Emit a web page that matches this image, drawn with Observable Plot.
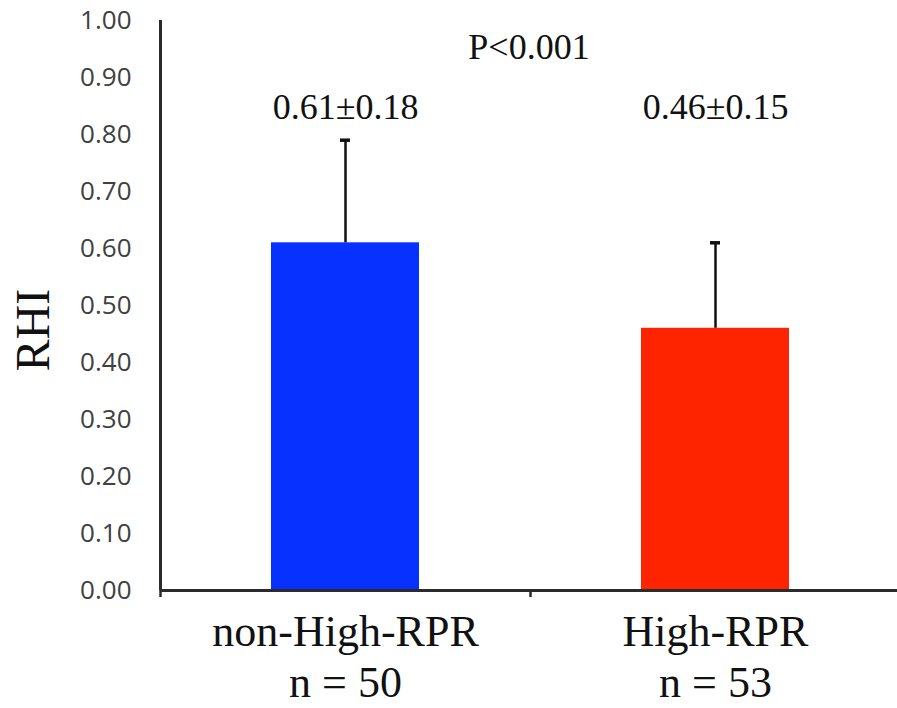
<!DOCTYPE html>
<html>
<head>
<meta charset="utf-8">
<script src="https://cdn.jsdelivr.net/npm/d3@7"></script>
<script src="https://cdn.jsdelivr.net/npm/@observablehq/plot@0.6"></script>
<style>
  html, body { margin: 0; padding: 0; background: #fff; }
</style>
</head>
<body>
<div id="chart"></div>
<script>
// Data
const groups = ["non-High-RPR", "High-RPR"];
const means = [0.61, 0.46];
const sds = [0.18, 0.15];
const ns = [50, 53];
const yTicks = [0, 0.1, 0.2, 0.3, 0.4, 0.5, 0.6, 0.7, 0.8, 0.9, 1.0];
const pLabel = "P<0.001";
const yLabel = "RHI";
const barColors = ["#0631ff", "#ff2400"];

const data = groups.map((g, i) => ({group: g, mean: means[i], sd: sds[i], n: ns[i]}));

const serif = "'Liberation Serif', 'Times New Roman', serif";
const sans = "'Open Sans', 'Liberation Sans', sans-serif";
const axisColor = "#2b2b2b";

const chart = Plot.plot({
  width: 897,
  height: 708,
  marginTop: 20,
  marginBottom: 118,
  marginLeft: 160,
  marginRight: 0,
  style: {background: "#fff", fontFamily: sans, fontSize: "25px", color: "#404040"},
  x: {domain: groups, range: [160, 900], paddingInner: 0.6, paddingOuter: 0.3, axis: null, label: null},
  y: {domain: [0, 1], axis: null, label: null},
  color: {domain: groups, range: barColors},
  marks: [
    Plot.barY(data, {x: "group", y: "mean", fill: "group"}),
    Plot.ruleX(data, {x: "group", y1: "mean", y2: d => d.mean + d.sd, stroke: "#111", strokeWidth: 2.5}),
    Plot.tickY(data, {x: "group", y: d => d.mean + d.sd, insetLeft: 69, insetRight: 69, stroke: "#111", strokeWidth: 3.5}),
    // axes
    Plot.ruleY([0], {stroke: axisColor, strokeWidth: 3}),
    Plot.ruleX([groups[0]], {x: d => d, y1: 0, y2: 1, dx: -185, stroke: axisColor, strokeWidth: 3}),
    Plot.axisX({tickSize: 7, tickFormat: () => "", label: null, dx: -185, stroke: axisColor, strokeWidth: 2.5}),
    Plot.axisY({ticks: yTicks, tickSize: 0, tickPadding: 29, tickFormat: d3.format(".2f"), fontSize: 26, fill: "#404040", label: null}),
    // category labels
    Plot.text(data, {x: "group", text: d => `${d.group}\nn = ${d.n}`, frameAnchor: "bottom", lineAnchor: "bottom", dy: 106, lineHeight: 1.14, fontSize: 44, fontFamily: serif, fill: "#111"}),
    // mean ± sd annotations
    Plot.text(data, {x: "group", text: d => `${d.mean.toFixed(2)}±${d.sd.toFixed(2)}`, frameAnchor: "top", lineAnchor: "bottom", dy: 98, fontSize: 36, fontFamily: serif, fill: "#111"}),
    Plot.text([pLabel], {text: d => d, frameAnchor: "top", lineAnchor: "bottom", dy: 38, fontSize: 36, fontFamily: serif, fill: "#111"}),
    // y label
    Plot.text([yLabel], {text: d => d, frameAnchor: "left", rotate: -90, dx: -127, dy: 66, fontSize: 48, fontFamily: serif, fill: "#111"})
  ]
});

document.getElementById("chart").appendChild(chart);
</script>
</body>
</html>
